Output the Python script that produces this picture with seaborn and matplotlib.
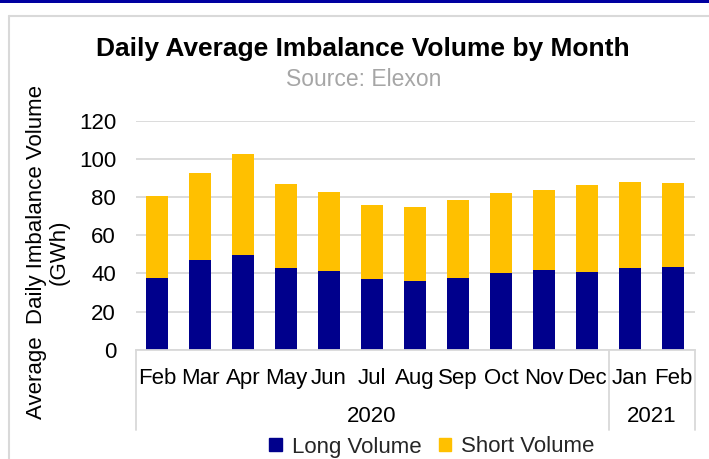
import matplotlib
matplotlib.use("Agg")
import matplotlib.pyplot as plt
import seaborn as sns
import pandas as pd
from matplotlib.patches import Patch, Rectangle
from matplotlib.lines import Line2D
import matplotlib.transforms as mtransforms

months = ["Feb", "Mar", "Apr", "May", "Jun", "Jul", "Aug", "Sep", "Oct", "Nov", "Dec", "Jan", "Feb"]
years = ["2020"] * 11 + ["2021"] * 2
long_volume = [37.5, 47.1, 49.4, 42.9, 41.2, 37.2, 36.1, 37.5, 40.2, 41.6, 40.7, 42.6, 43.5]
short_volume = [43.1, 45.6, 53.1, 43.7, 41.5, 38.6, 38.8, 40.7, 41.7, 42.0, 45.5, 45.2, 43.9]

keys = [f"{m}-{y}" for m, y in zip(months, years)]
df = pd.DataFrame({"key": keys, "long": long_volume,
                   "total": [a + b for a, b in zip(long_volume, short_volume)]})

NAVY = "#00008C"
GOLD = "#FFC000"
GRID = "#D9D9D9"
FS = 16

sns.set_theme(style="white")
plt.rcParams["font.family"] = ["Liberation Sans", "DejaVu Sans"]

fig = plt.figure(figsize=(7.09, 4.59), dpi=100)
ax = fig.add_axes([135.5 / 709, 1 - 349.7 / 459, (694.5 - 135.5) / 709, (349.7 - 120.7) / 459])

sns.barplot(data=df, x="key", y="total", order=keys, color=GOLD, width=0.5,
            saturation=1, ax=ax, linewidth=0)
sns.barplot(data=df, x="key", y="long", order=keys, color=NAVY, width=0.5,
            saturation=1, ax=ax, linewidth=0)

ax.set_ylim(0, 120)
ax.set_xlim(-0.5, len(keys) - 0.5)
ax.set_yticks([0, 20, 40, 60, 80, 100, 120])
ax.set_xticks(range(len(keys)))
ax.set_xticklabels(months)
ax.tick_params(axis="y", labelsize=FS, pad=14, length=0, colors="black")
ax.tick_params(axis="x", labelsize=FS, pad=13.5, length=0, colors="black")
ax.set_xlabel("")
ax.set_ylabel("")
ax.yaxis.grid(True, color=GRID, linewidth=1.3)
ax.set_axisbelow(True)
for s in ["top", "right", "left"]:
    ax.spines[s].set_visible(False)
ax.spines["bottom"].set_color(GRID)
ax.spines["bottom"].set_linewidth(1.3)

# year group labels and separators
trans = mtransforms.blended_transform_factory(ax.transData, ax.transAxes)
ybot = -(430 - 349.7) / 229.0
for xs in [-0.5, 10.5, 12.5]:
    ax.add_line(Line2D([xs, xs], [0, ybot], transform=trans, color=GRID,
                       linewidth=1.3, clip_on=False))
year_groups = [("2020", 0, 10), ("2021", 11, 12)]
for label, a, b in year_groups:
    ax.text((a + b) / 2, -(417 - 349.7) / 229.0, label, transform=trans,
            ha="center", va="center", fontsize=FS, color="black")

# titles
fig.text(363 / 709, 1 - 49 / 459, "Daily Average Imbalance Volume by Month",
         ha="center", va="center", fontsize=19, fontweight="bold", color="black")
fig.text(364 / 709, 1 - 80 / 459, "Source: Elexon", ha="center", va="center",
         fontsize=16.5, color="#A6A6A6")

# y label
fig.text(48 / 709, 1 - 252 / 459, "Average  Daily Imbalance Volume\n(GWh)",
         rotation=90, ha="center", va="center", multialignment="center",
         fontsize=FS, color="black", linespacing=1.1)

# legend
handles = [Patch(facecolor=NAVY, edgecolor=NAVY, label="Long Volume"),
           Patch(facecolor=GOLD, edgecolor=GOLD, label="Short Volume")]
fig.legend(handles=handles, loc="center", bbox_to_anchor=(432 / 709, 1 - 447 / 459),
           ncol=2, frameon=False, fontsize=FS, handlelength=0.55, handleheight=0.55,
           handletextpad=0.45, columnspacing=0.8, borderpad=0)

# frame and top band
fig.add_artist(Rectangle((0, 1 - 3 / 459), 1, 3 / 459, transform=fig.transFigure,
                         facecolor="#0000A0", edgecolor="none"))
fig.add_artist(Line2D([8.5 / 709, 1], [1 - 16 / 459, 1 - 16 / 459], transform=fig.transFigure,
                      color=GRID, linewidth=1.5))
fig.add_artist(Line2D([8.5 / 709, 8.5 / 709], [0, 1 - 16 / 459], transform=fig.transFigure,
                      color=GRID, linewidth=1.5))

fig.savefig("out.png", dpi=100)
